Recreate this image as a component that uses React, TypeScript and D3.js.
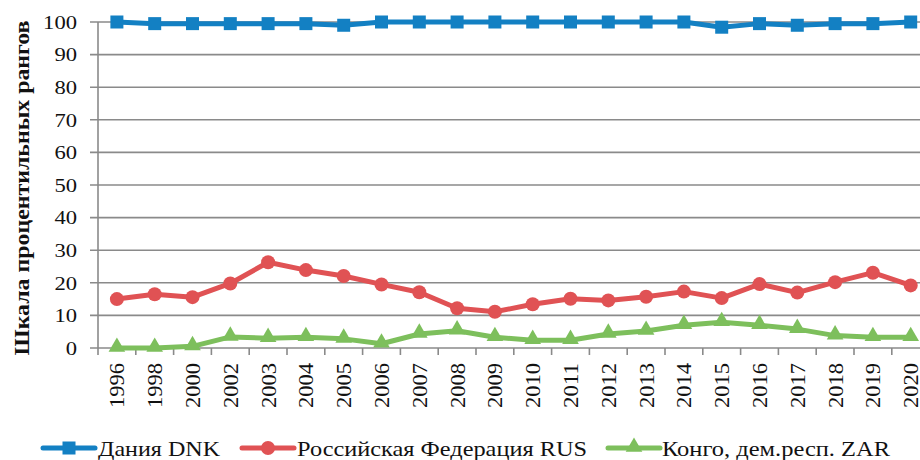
import React from "react";
import * as d3 from "d3";

const years = ["1996","1998","2000","2002","2003","2004","2005","2006","2007","2008","2009","2010","2011","2012","2013","2014","2015","2016","2017","2018","2019","2020"];
const dnk = [100,99.5,99.5,99.5,99.5,99.5,99,100,100,100,100,100,100,100,100,100,98.4,99.5,99,99.5,99.5,100];
const rus = [15,16.5,15.6,19.8,26.3,23.9,22.1,19.5,17.1,12.2,11.1,13.4,15.1,14.6,15.7,17.3,15.3,19.6,17,20.2,23.1,19.2];
const zar = [0,0,0.5,3.4,3,3.3,2.8,1.3,4.3,5.3,3.3,2.4,2.4,4.3,5.2,7,7.9,7,5.8,3.8,3.3,3.3];
const yTicks = [0,10,20,30,40,50,60,70,80,90,100];
const seriesNames = ["Дания DNK", "Российская Федерация RUS", "Конго, дем.респ. ZAR"];

const W = 920, H = 460;
const FONT = '"Liberation Serif", "Tinos", "Times New Roman", "DejaVu Serif", serif';

export default function App() {
  const x = d3.scaleBand<string>().domain(years).range([98, 98 + years.length * 37.8]);
  const y = d3.scaleLinear().domain([0, 100]).range([348, 22]);
  const cx = (yr: string) => (x(yr) as number) + x.bandwidth() / 2;
  const line = d3.line<number>().x((_, i) => cx(years[i])).y(d => y(d));
  const tri = d3.symbol().type(d3.symbolTriangle).size(120)() as string;
  const colors = ["#1380c3", "#e05254", "#7dbf5c"];
  const series = [dnk, rus, zar];
  const legendX = [43, 242, 608];
  const legendTextX = [98, 297, 662];
  const legendLen = [122, 290, 228];
  const ly = 448;
  const txt = { fontFamily: FONT } as React.CSSProperties;

  const marker = (k: number, px: number, py: number, key: string) => {
    if (k === 0) return <rect key={key} x={px - 6.5} y={py - 6.5} width={13} height={13} fill={colors[0]} />;
    if (k === 1) return <circle key={key} cx={px} cy={py} r={7} fill={colors[1]} />;
    return <path key={key} d={tri} transform={`translate(${px},${py - 1})`} fill={colors[2]} />;
  };

  return (
    <svg width={W} height={H} style={{ position: "absolute", left: 0, top: 0, background: "#fff", fontFamily: FONT }}>
      {yTicks.map(t => (
        <line key={"g" + t} x1={90} x2={W} y1={y(t)} y2={y(t)} stroke="#8a8a8a" strokeWidth={1.6} />
      ))}
      <line x1={98} x2={98} y1={y(100)} y2={y(0)} stroke="#8a8a8a" strokeWidth={1.6} />
      {yTicks.map(t => (
        <text key={"yt" + t} x={77} y={y(t)} dy="0.36em" textAnchor="end" fontSize={19} fill="#111" style={txt}
          textLength={String(t).length * 11.3} lengthAdjust="spacingAndGlyphs">{t}</text>
      ))}
      {years.map(yr => (
        <line key={"xt" + yr} x1={x(yr) as number} x2={x(yr) as number} y1={348} y2={355} stroke="#8a8a8a" strokeWidth={1.6} />
      ))}
      {years.map(yr => (
        <text key={"xl" + yr} transform={`translate(${cx(yr)},363) rotate(-90)`} textAnchor="end" dy="0.36em" fontSize={21} fill="#111" style={txt}
          textLength={45} lengthAdjust="spacingAndGlyphs">{yr}</text>
      ))}
      <text transform={`translate(22,188) rotate(-90)`} textAnchor="middle" dy="0.35em" fontSize={21} fontWeight="bold" fill="#111" style={txt}
        textLength={335} lengthAdjust="spacingAndGlyphs">Шкала процентильных рангов</text>
      {series.map((s, k) => (
        <g key={"s" + k}>
          <path d={line(s) as string} fill="none" stroke={colors[k]} strokeWidth={5} strokeLinejoin="round" />
          {s.map((v, i) => marker(k, cx(years[i]), y(v), "m" + k + "-" + i))}
        </g>
      ))}
      {seriesNames.map((n, k) => (
        <g key={"l" + k}>
          <line x1={legendX[k]} x2={legendX[k] + 52} y1={ly} y2={ly} stroke={colors[k]} strokeWidth={5} strokeLinecap="round" />
          {marker(k, legendX[k] + 26, ly, "lm" + k)}
          <text x={legendTextX[k]} y={ly} dy="0.36em" fontSize={21} fill="#111" style={txt}
            textLength={legendLen[k]} lengthAdjust="spacingAndGlyphs">{n}</text>
        </g>
      ))}
    </svg>
  );
}
